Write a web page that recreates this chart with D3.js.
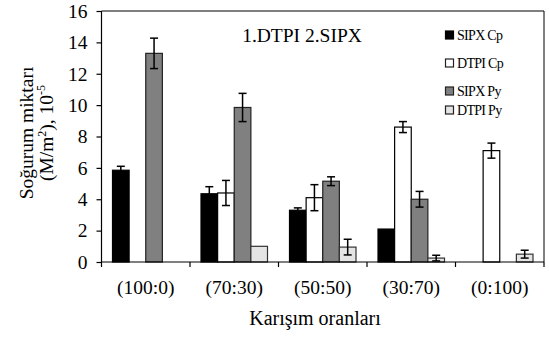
<!DOCTYPE html>
<html><head><meta charset="utf-8">
<script src="https://cdn.jsdelivr.net/npm/d3@7"></script>
<style>
html,body{margin:0;padding:0;background:#fff;}
svg{display:block;}
text{font-family:"Liberation Serif","Times New Roman",serif;fill:#000;}
</style></head>
<body>
<script>
const categories = ["(100:0)", "(70:30)", "(50:50)", "(30:70)", "(0:100)"];
const seriesNames = ["SIPX Cp", "DTPI Cp", "SIPX Py", "DTPI Py"];
const sipxCp    = [5.85, 4.35, 3.3, 2.1, 0];
const sipxCpErr = [0.25, 0.45, 0.15, 0, 0];
const dtpiCp    = [0, 4.4, 4.1, 8.6, 7.1];
const dtpiCpErr = [0, 0.8, 0.83, 0.35, 0.48];
const sipxPy    = [13.3, 9.85, 5.15, 4.0, 0];
const sipxPyErr = [0.97, 0.9, 0.28, 0.5, 0];
const dtpiPy    = [0, 1.0, 0.95, 0.25, 0.5];
const dtpiPyErr = [0, 0, 0.5, 0.18, 0.25];
const yTicks = [0, 2, 4, 6, 8, 10, 12, 14, 16];
const title = "1.DTPI 2.SIPX";
const xTitle = "Karışım oranları";

const values = [sipxCp, dtpiCp, sipxPy, dtpiPy];
const errors = [sipxCpErr, dtpiCpErr, sipxPyErr, dtpiPyErr];
const fills = ["#000000", "#ffffff", "#808080", "#e4e4e4"];
const strokes = ["#000000", "#000000", "#222222", "#333333"];

const W = 549, H = 339;
const L = 101.5, R = 544, T = 11, B = 262;

const svg = d3.select("body").append("svg").attr("width", W).attr("height", H);

const x0 = d3.scaleBand().domain(categories).range([L, R]).padding(0);
const x1 = d3.scaleBand().domain(seriesNames).range([11, x0.bandwidth() - 11]).padding(0);
const y = d3.scaleLinear().domain([0, 16]).range([B, T]);

// frame top & right
svg.append("line").attr("x1", L).attr("x2", R).attr("y1", T).attr("y2", T).attr("stroke", "#000").attr("stroke-width", 1);
svg.append("line").attr("x1", R).attr("x2", R).attr("y1", T).attr("y2", B).attr("stroke", "#000").attr("stroke-width", 1);

// bars
const rows = [];
categories.forEach((c, i) => {
  seriesNames.forEach((s, j) => {
    rows.push({c, s, j, v: values[j][i], e: errors[j][i]});
  });
});
const barRows = rows.filter(d => d.v > 0);
svg.append("g").selectAll("rect").data(barRows).join("rect")
  .attr("x", d => x0(d.c) + x1(d.s))
  .attr("y", d => y(d.v))
  .attr("width", x1.bandwidth())
  .attr("height", d => y(0) - y(d.v))
  .attr("fill", d => fills[d.j])
  .attr("stroke", d => strokes[d.j])
  .attr("stroke-width", 1.2);

// error bars
const errRows = barRows.filter(d => d.e > 0);
const eg = svg.append("g").attr("stroke", "#000").attr("stroke-width", 1.5);
errRows.forEach(d => {
  const cx = x0(d.c) + x1(d.s) + x1.bandwidth() / 2;
  const y1 = y(d.v + d.e), y2 = y(d.v - d.e);
  eg.append("line").attr("x1", cx).attr("x2", cx).attr("y1", y1).attr("y2", y2);
  eg.append("line").attr("x1", cx - 4).attr("x2", cx + 4).attr("y1", y1).attr("y2", y1);
  eg.append("line").attr("x1", cx - 4).attr("x2", cx + 4).attr("y1", y2).attr("y2", y2);
});

// y axis
const yAxis = svg.append("g").attr("transform", `translate(${L},0)`)
  .call(d3.axisLeft(y).tickValues(yTicks).tickSize(5).tickPadding(9).tickFormat(d3.format("d")));
yAxis.selectAll("text").style("font-size", "19.5px").style("font-family", '"Liberation Serif",serif');
yAxis.selectAll("line, path").attr("stroke", "#000").attr("stroke-width", 1.2);
yAxis.select("path").attr("d", `M0,${B}V${T}`);

// x axis: line + boundary ticks + labels at centres
const xAxis = svg.append("g").attr("transform", `translate(0,${B})`)
  .call(d3.axisBottom(x0).tickSize(0).tickPadding(18));
xAxis.select("path").attr("d", `M${L},0H${R}`).attr("stroke", "#000").attr("stroke-width", 1.2);
xAxis.selectAll("text").style("font-size", "19.5px").style("font-family", '"Liberation Serif",serif');
const bounds = categories.map(c => x0(c)).concat([x0.range()[1]]);
xAxis.selectAll("line.bound").data(bounds).join("line").attr("class", "bound")
  .attr("x1", d => d).attr("x2", d => d).attr("y1", 0).attr("y2", 5)
  .attr("stroke", "#000").attr("stroke-width", 1.2);

// titles
svg.append("text").attr("x", 302).attr("y", 42).attr("text-anchor", "middle")
  .style("font-size", "19.5px").text(title);
svg.append("text").attr("x", 315).attr("y", 325).attr("text-anchor", "middle")
  .style("font-size", "20px").text(xTitle);

const yl = svg.append("g").attr("transform", "translate(0,133) rotate(-90)");
yl.append("text").attr("x", 0).attr("y", 33).attr("text-anchor", "middle")
  .style("font-size", "19.5px").text("Soğurum miktarı");
const t2 = yl.append("text").attr("x", 0).attr("y", 53).attr("text-anchor", "middle").style("font-size", "19.5px");
t2.append("tspan").text("(M/m");
t2.append("tspan").attr("dy", -7).style("font-size", "12px").text("2");
t2.append("tspan").attr("dy", 7).text("), 10");
t2.append("tspan").attr("dy", -8).style("font-size", "12px").text("-5");

// legend
const legY = [35, 63, 91, 110];
const lg = svg.append("g");
seriesNames.forEach((s, j) => {
  lg.append("rect").attr("x", 445.5).attr("y", legY[j] - 4).attr("width", 8).attr("height", 8)
    .attr("fill", fills[j]).attr("stroke", j === 0 ? "#000" : "#222").attr("stroke-width", 1.2);
  lg.append("text").attr("x", 457).attr("y", legY[j] + 5)
    .style("font-size", "14px").style("letter-spacing", "-0.7px").text(s);
});
</script>
</body></html>
